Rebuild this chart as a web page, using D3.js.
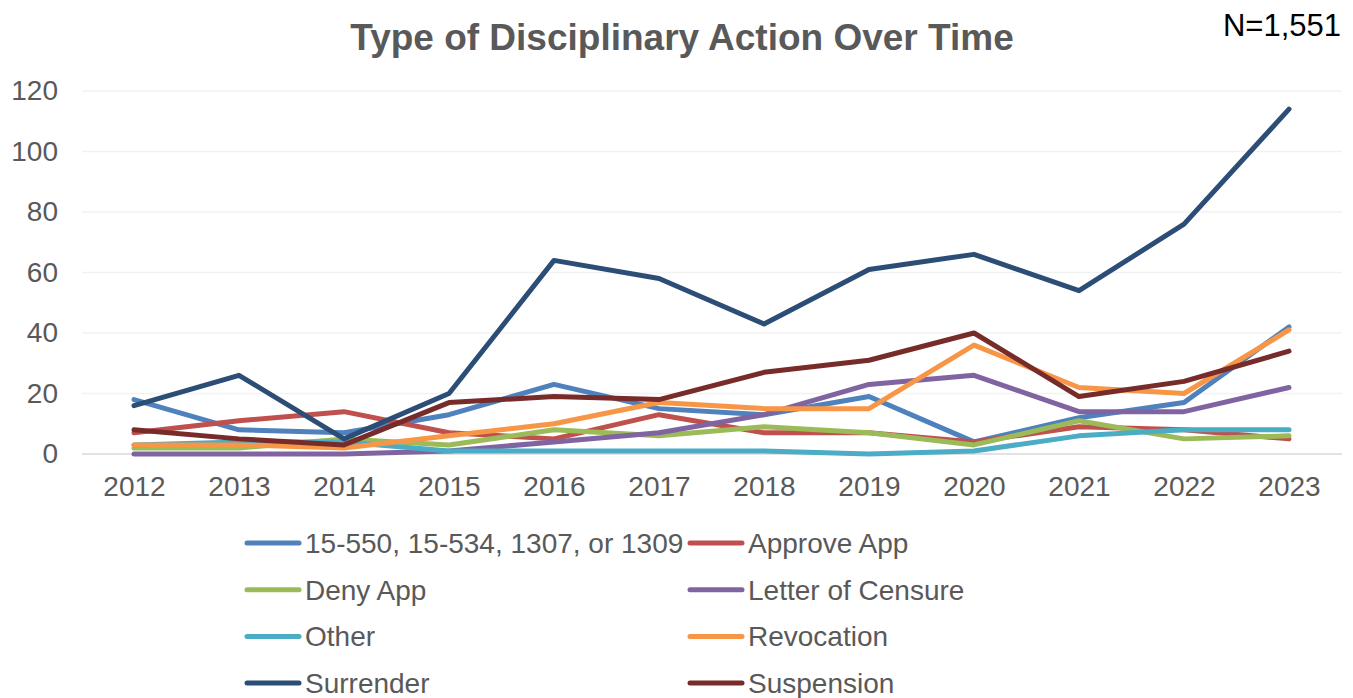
<!DOCTYPE html>
<html>
<head>
<meta charset="utf-8">
<script src="https://d3js.org/d3.v7.min.js"></script>
<style>
  body { margin: 0; background: #fff; }
  text { font-family: "Liberation Sans", Arial, sans-serif; }
</style>
</head>
<body>
<div id="chart"></div>
<script>
  // data
  var years = [2012, 2013, 2014, 2015, 2016, 2017, 2018, 2019, 2020, 2021, 2022, 2023];
  var yTicks = [0, 20, 40, 60, 80, 100, 120];

  var statute = [18, 8, 7, 13, 23, 15, 13, 19, 4, 12, 17, 42];
  var approveApp = [7, 11, 14, 7, 5, 13, 7, 7, 4, 9, 8, 5];
  var denyApp = [2, 2, 5, 3, 8, 6, 9, 7, 3, 11, 5, 6];
  var censure = [0, 0, 0, 1, 4, 7, 13, 23, 26, 14, 14, 22];
  var other = [3, 4, 4, 1, 1, 1, 1, 0, 1, 6, 8, 8];
  var revocation = [3, 3, 2, 6, 10, 17, 15, 15, 36, 22, 20, 41];
  var surrender = [16, 26, 5, 20, 64, 58, 43, 61, 66, 54, 76, 114];
  var suspension = [8, 5, 3, 17, 19, 18, 27, 31, 40, 19, 24, 34];

  var seriesNames = ["15-550, 15-534, 1307, or 1309", "Approve App", "Deny App", "Letter of Censure",
                     "Other", "Revocation", "Surrender", "Suspension"];
  var seriesColors = ["#4F81BD", "#C0504D", "#9BBB59", "#8064A2", "#4BACC6", "#F79646", "#2C4D75", "#772C2A"];
  var seriesValues = [statute, approveApp, denyApp, censure, other, revocation, surrender, suspension];

  var W = 1353, H = 698;
  var svg = d3.select("#chart").append("svg")
      .attr("width", W)
      .attr("height", H);

  var x = d3.scalePoint().domain(years).range([134, 1289]);
  var y = d3.scaleLinear().domain([0, 120]).range([454, 91]);

  // gridlines
  svg.append("g")
    .selectAll("line")
    .data(yTicks.filter(function(d) { return d > 0; }))
    .join("line")
      .attr("x1", 82).attr("x2", 1342)
      .attr("y1", function(d) { return y(d); })
      .attr("y2", function(d) { return y(d); })
      .attr("stroke", "#F2F2F2")
      .attr("stroke-width", 1.3);

  // y axis labels
  var yAxis = svg.append("g")
      .attr("transform", "translate(58,0)")
      .call(d3.axisLeft(y).tickValues(yTicks).tickSize(0).tickPadding(0));
  yAxis.select(".domain").remove();
  yAxis.selectAll("text")
      .attr("fill", "#595959")
      .attr("font-size", "28px")
      .attr("font-family", "'Liberation Sans', Arial, sans-serif");

  // x axis
  var xAxis = svg.append("g")
      .attr("transform", "translate(0,454)")
      .call(d3.axisBottom(x).tickSize(0).tickPadding(22).tickFormat(d3.format("d")));
  xAxis.select(".domain").remove();
  xAxis.selectAll("text")
      .attr("fill", "#595959")
      .attr("font-size", "28px")
      .attr("font-family", "'Liberation Sans', Arial, sans-serif");
  svg.append("line")
      .attr("x1", 82).attr("x2", 1342)
      .attr("y1", y(0)).attr("y2", y(0))
      .attr("stroke", "#D9D9D9")
      .attr("stroke-width", 1.5);

  // lines
  var line = d3.line()
      .x(function(d, i) { return x(years[i]); })
      .y(function(d) { return y(d); });

  svg.append("g")
    .selectAll("path")
    .data(seriesValues)
    .join("path")
      .attr("d", line)
      .attr("fill", "none")
      .attr("stroke", function(d, i) { return seriesColors[i]; })
      .attr("stroke-width", 5)
      .attr("stroke-linejoin", "round")
      .attr("stroke-linecap", "round");

  // title
  svg.append("text")
      .attr("x", 682).attr("y", 50)
      .attr("text-anchor", "middle")
      .attr("font-size", "37px")
      .attr("font-weight", "bold")
      .attr("fill", "#595959")
      .text("Type of Disciplinary Action Over Time");

  svg.append("text")
      .attr("x", 1341).attr("y", 36)
      .attr("text-anchor", "end")
      .attr("font-size", "31px")
      .attr("fill", "#000")
      .text("N=1,551");

  // legend
  var legend = svg.append("g")
    .selectAll("g")
    .data(seriesNames)
    .join("g")
      .attr("transform", function(d, i) {
        var col = i % 2, row = Math.floor(i / 2);
        return "translate(" + (col === 0 ? 247 : 690) + "," + (543 + row * 46.7) + ")";
      });
  legend.append("line")
      .attr("x1", 0).attr("x2", 52)
      .attr("stroke", function(d, i) { return seriesColors[i]; })
      .attr("stroke-width", 5)
      .attr("stroke-linecap", "round");
  legend.append("text")
      .attr("x", 58).attr("dy", "0.35em")
      .attr("font-size", "28px")
      .attr("fill", "#595959")
      .text(function(d) { return d; });
</script>
</body>
</html>
